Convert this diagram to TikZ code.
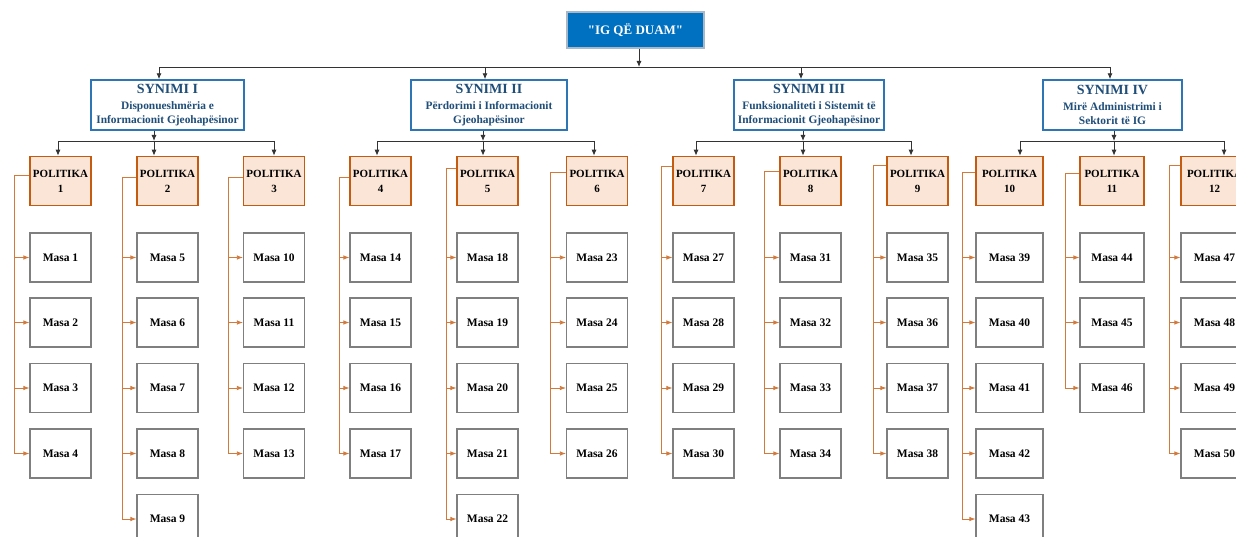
\documentclass[tikz,border=0pt]{standalone}
\usepackage{fontspec}
\setmainfont{Liberation Serif}[Ligatures=TeXOff]
\usetikzlibrary{arrows.meta}
\definecolor{igblue}{HTML}{0070C0}
\definecolor{igedge}{HTML}{A9B8C8}
\definecolor{goalline}{HTML}{2E75B6}
\definecolor{goaltext}{HTML}{1F4E79}
\definecolor{policyfill}{HTML}{FBE5D6}
\definecolor{policyline}{HTML}{C55A11}
\definecolor{measureline}{HTML}{7F7F7F}
\definecolor{policywirecol}{HTML}{D2793C}
\newcommand{\goaltitle}{\fontsize{14}{15}\selectfont}

\begin{document}
\begin{tikzpicture}[x=1pt,y=-1pt]
            \tikzstyle{vision}=[draw=igedge,line width=1.6pt,fill=igblue,text=white,minimum width=137,minimum height=36,font=\bfseries\fontsize{13}{15}\selectfont]
            \tikzstyle{goal}=[draw=goalline,line width=1.4pt,fill=white,text=goaltext,minimum height=50,align=center,inner sep=1pt,font=\bfseries\fontsize{11.4}{14}\selectfont]
            \tikzstyle{policy}=[draw=policyline,line width=1.6pt,fill=policyfill,minimum width=61,minimum height=49,align=center,inner sep=1pt,font=\bfseries\fontsize{11}{15}\selectfont]
            \tikzstyle{measure}=[draw=measureline,line width=1.2pt,fill=white,minimum width=61,minimum height=49,font=\bfseries\fontsize{11.5}{13}\selectfont]
            \tikzstyle{treewire}=[line width=0.9pt,black!80]
            \tikzstyle{treearrow}=[treewire,-{Latex[length=6pt,width=5pt]}]
            \tikzstyle{policywire}=[line width=0.8pt,policywirecol]
            \tikzstyle{policyarrow}=[policywire,-{Latex[length=6pt,width=4.5pt]}]

            \useasboundingbox (0,0) rectangle (1236,537);
            \clip (0,0) rectangle (1236,537);

            % vision
            \node[vision] (vision) at (635.5,30) {"IG QË DUAM"};

            % goals
            \node[goal,minimum width=153] (g1) at (167.5,105) {{\goaltitle SYNIMI I}\\[2pt]Disponueshmëria e\\Informacionit Gjeohapësinor};
            \node[goal,minimum width=156] (g2) at (489,105) {{\goaltitle SYNIMI II}\\[2pt]Përdorimi i Informacionit\\Gjeohapësinor};
            \node[goal,minimum width=150] (g3) at (809,105) {{\goaltitle SYNIMI III}\\[2pt]Funksionaliteti i Sistemit të\\Informacionit Gjeohapësinor};
            \node[goal,minimum width=139] (g4) at (1112.5,105) {{\goaltitle SYNIMI IV}\\[2pt]Mirë Administrimi i\\Sektorit të IG};

            % top bus
            \coordinate (t0) at (639,67);
            \coordinate (d1) at (159,67);
            \coordinate (d2) at (485,67);
            \coordinate (d3) at (801,67);
            \coordinate (d4) at (1110,67);
            \draw[treearrow] (vision.south -| t0) -- (t0);
            \draw[treewire] (d1) -- (d4);
            \draw[treearrow] (d1) -- (d1 |- g1.north);
            \draw[treearrow] (d2) -- (d2 |- g2.north);
            \draw[treearrow] (d3) -- (d3 |- g3.north);
            \draw[treearrow] (d4) -- (d4 |- g4.north);

            % policies
            \node[policy] (p1) at (60.5,181) {POLITIKA\\1};
            \node[policy] (p2) at (167.5,181) {POLITIKA\\2};
            \node[policy] (p3) at (274,181) {POLITIKA\\3};
            \node[policy] (p4) at (380.5,181) {POLITIKA\\4};
            \node[policy] (p5) at (487.5,181) {POLITIKA\\5};
            \node[policy] (p6) at (597,181) {POLITIKA\\6};
            \node[policy] (p7) at (703.5,181) {POLITIKA\\7};
            \node[policy] (p8) at (810.5,181) {POLITIKA\\8};
            \node[policy] (p9) at (917.5,181) {POLITIKA\\9};
            \node[policy,minimum width=67] (p10) at (1009.5,181) {POLITIKA\\10};
            \node[policy,minimum width=64] (p11) at (1112,181) {POLITIKA\\11};
            \node[policy,minimum width=67] (p12) at (1214.5,181) {POLITIKA\\12};

            % goal buses
            \coordinate (k1) at (154,141);
            \coordinate (k2) at (483,141);
            \coordinate (k3) at (803,141);
            \coordinate (k4) at (1114,141);
            \coordinate (q1) at (58,141);
            \coordinate (q3) at (274,141);
            \coordinate (q4) at (377,141);
            \coordinate (q6) at (594,141);
            \coordinate (q7) at (696,141);
            \coordinate (q9) at (911,141);
            \coordinate (q10) at (1020,141);
            \coordinate (q12) at (1224,141);
            \draw[treearrow] (g1.south -| k1) -- (k1);
            \draw[treearrow] (g2.south -| k2) -- (k2);
            \draw[treearrow] (g3.south -| k3) -- (k3);
            \draw[treearrow] (g4.south -| k4) -- (k4);
            \draw[treewire] (q1) -- (q3);
            \draw[treewire] (q4) -- (q6);
            \draw[treewire] (q7) -- (q9);
            \draw[treewire] (q10) -- (q12);
            \draw[treearrow] (q1) -- (q1 |- p1.north);
            \draw[treearrow] (k1) -- (k1 |- p2.north);
            \draw[treearrow] (q3) -- (q3 |- p3.north);
            \draw[treearrow] (q4) -- (q4 |- p4.north);
            \draw[treearrow] (k2) -- (k2 |- p5.north);
            \draw[treearrow] (q6) -- (q6 |- p6.north);
            \draw[treearrow] (q7) -- (q7 |- p7.north);
            \draw[treearrow] (k3) -- (k3 |- p8.north);
            \draw[treearrow] (q9) -- (q9 |- p9.north);
            \draw[treearrow] (q10) -- (q10 |- p10.north);
            \draw[treearrow] (k4) -- (k4 |- p11.north);
            \draw[treearrow] (q12) -- (q12 |- p12.north);

            % measures
            \node[measure] (m1) at (60.5,257.5) {Masa 1};
            \node[measure] (m2) at (60.5,322.5) {Masa 2};
            \node[measure] (m3) at (60.5,388) {Masa 3};
            \node[measure] (m4) at (60.5,453.5) {Masa 4};
            \node[measure] (m5) at (167.5,257.5) {Masa 5};
            \node[measure] (m6) at (167.5,322.5) {Masa 6};
            \node[measure] (m7) at (167.5,388) {Masa 7};
            \node[measure] (m8) at (167.5,453.5) {Masa 8};
            \node[measure] (m9) at (167.5,519) {Masa 9};
            \node[measure] (m10) at (274,257.5) {Masa 10};
            \node[measure] (m11) at (274,322.5) {Masa 11};
            \node[measure] (m12) at (274,388) {Masa 12};
            \node[measure] (m13) at (274,453.5) {Masa 13};
            \node[measure] (m14) at (380.5,257.5) {Masa 14};
            \node[measure] (m15) at (380.5,322.5) {Masa 15};
            \node[measure] (m16) at (380.5,388) {Masa 16};
            \node[measure] (m17) at (380.5,453.5) {Masa 17};
            \node[measure] (m18) at (487.5,257.5) {Masa 18};
            \node[measure] (m19) at (487.5,322.5) {Masa 19};
            \node[measure] (m20) at (487.5,388) {Masa 20};
            \node[measure] (m21) at (487.5,453.5) {Masa 21};
            \node[measure] (m22) at (487.5,519) {Masa 22};
            \node[measure] (m23) at (597,257.5) {Masa 23};
            \node[measure] (m24) at (597,322.5) {Masa 24};
            \node[measure] (m25) at (597,388) {Masa 25};
            \node[measure] (m26) at (597,453.5) {Masa 26};
            \node[measure] (m27) at (703.5,257.5) {Masa 27};
            \node[measure] (m28) at (703.5,322.5) {Masa 28};
            \node[measure] (m29) at (703.5,388) {Masa 29};
            \node[measure] (m30) at (703.5,453.5) {Masa 30};
            \node[measure] (m31) at (810.5,257.5) {Masa 31};
            \node[measure] (m32) at (810.5,322.5) {Masa 32};
            \node[measure] (m33) at (810.5,388) {Masa 33};
            \node[measure] (m34) at (810.5,453.5) {Masa 34};
            \node[measure] (m35) at (917.5,257.5) {Masa 35};
            \node[measure] (m36) at (917.5,322.5) {Masa 36};
            \node[measure] (m37) at (917.5,388) {Masa 37};
            \node[measure] (m38) at (917.5,453.5) {Masa 38};
            \node[measure,minimum width=67] (m39) at (1009.5,257.5) {Masa 39};
            \node[measure,minimum width=67] (m40) at (1009.5,322.5) {Masa 40};
            \node[measure,minimum width=67] (m41) at (1009.5,388) {Masa 41};
            \node[measure,minimum width=67] (m42) at (1009.5,453.5) {Masa 42};
            \node[measure,minimum width=67] (m43) at (1009.5,519) {Masa 43};
            \node[measure,minimum width=64] (m44) at (1112,257.5) {Masa 44};
            \node[measure,minimum width=64] (m45) at (1112,322.5) {Masa 45};
            \node[measure,minimum width=64] (m46) at (1112,388) {Masa 46};
            \node[measure,minimum width=67] (m47) at (1214.5,257.5) {Masa 47};
            \node[measure,minimum width=67] (m48) at (1214.5,322.5) {Masa 48};
            \node[measure,minimum width=67] (m49) at (1214.5,388) {Masa 49};
            \node[measure,minimum width=67] (m50) at (1214.5,453.5) {Masa 50};

            % policy spines
            \coordinate (c1) at (14,175);
            \coordinate (c2) at (122,177);
            \coordinate (c3) at (228,177);
            \coordinate (c4) at (339,177);
            \coordinate (c5) at (446,168);
            \coordinate (c6) at (550,172);
            \coordinate (c7) at (661,166);
            \coordinate (c8) at (764,171);
            \coordinate (c9) at (873,165);
            \coordinate (c10) at (962,172);
            \coordinate (c11) at (1065,173);
            \coordinate (c12) at (1169,165);
            \draw[policyarrow] (c1 -| p1.west) -- (c1) |- (m4.west);
            \draw[policyarrow] (c2 -| p2.west) -- (c2) |- (m9.west);
            \draw[policyarrow] (c3 -| p3.west) -- (c3) |- (m13.west);
            \draw[policyarrow] (c4 -| p4.west) -- (c4) |- (m17.west);
            \draw[policyarrow] (c5 -| p5.west) -- (c5) |- (m22.west);
            \draw[policyarrow] (c6 -| p6.west) -- (c6) |- (m26.west);
            \draw[policyarrow] (c7 -| p7.west) -- (c7) |- (m30.west);
            \draw[policyarrow] (c8 -| p8.west) -- (c8) |- (m34.west);
            \draw[policyarrow] (c9 -| p9.west) -- (c9) |- (m38.west);
            \draw[policyarrow] (c10 -| p10.west) -- (c10) |- (m43.west);
            \draw[policyarrow] (c11 -| p11.west) -- (c11) |- (m46.west);
            \draw[policyarrow] (c12 -| p12.west) -- (c12) |- (m50.west);

            % policy branches
            \draw[policyarrow] (c1 |- m1.west) -- (m1.west);
            \draw[policyarrow] (c1 |- m2.west) -- (m2.west);
            \draw[policyarrow] (c1 |- m3.west) -- (m3.west);
            \draw[policyarrow] (c2 |- m5.west) -- (m5.west);
            \draw[policyarrow] (c2 |- m6.west) -- (m6.west);
            \draw[policyarrow] (c2 |- m7.west) -- (m7.west);
            \draw[policyarrow] (c2 |- m8.west) -- (m8.west);
            \draw[policyarrow] (c3 |- m10.west) -- (m10.west);
            \draw[policyarrow] (c3 |- m11.west) -- (m11.west);
            \draw[policyarrow] (c3 |- m12.west) -- (m12.west);
            \draw[policyarrow] (c4 |- m14.west) -- (m14.west);
            \draw[policyarrow] (c4 |- m15.west) -- (m15.west);
            \draw[policyarrow] (c4 |- m16.west) -- (m16.west);
            \draw[policyarrow] (c5 |- m18.west) -- (m18.west);
            \draw[policyarrow] (c5 |- m19.west) -- (m19.west);
            \draw[policyarrow] (c5 |- m20.west) -- (m20.west);
            \draw[policyarrow] (c5 |- m21.west) -- (m21.west);
            \draw[policyarrow] (c6 |- m23.west) -- (m23.west);
            \draw[policyarrow] (c6 |- m24.west) -- (m24.west);
            \draw[policyarrow] (c6 |- m25.west) -- (m25.west);
            \draw[policyarrow] (c7 |- m27.west) -- (m27.west);
            \draw[policyarrow] (c7 |- m28.west) -- (m28.west);
            \draw[policyarrow] (c7 |- m29.west) -- (m29.west);
            \draw[policyarrow] (c8 |- m31.west) -- (m31.west);
            \draw[policyarrow] (c8 |- m32.west) -- (m32.west);
            \draw[policyarrow] (c8 |- m33.west) -- (m33.west);
            \draw[policyarrow] (c9 |- m35.west) -- (m35.west);
            \draw[policyarrow] (c9 |- m36.west) -- (m36.west);
            \draw[policyarrow] (c9 |- m37.west) -- (m37.west);
            \draw[policyarrow] (c10 |- m39.west) -- (m39.west);
            \draw[policyarrow] (c10 |- m40.west) -- (m40.west);
            \draw[policyarrow] (c10 |- m41.west) -- (m41.west);
            \draw[policyarrow] (c10 |- m42.west) -- (m42.west);
            \draw[policyarrow] (c11 |- m44.west) -- (m44.west);
            \draw[policyarrow] (c11 |- m45.west) -- (m45.west);
            \draw[policyarrow] (c12 |- m47.west) -- (m47.west);
            \draw[policyarrow] (c12 |- m48.west) -- (m48.west);
            \draw[policyarrow] (c12 |- m49.west) -- (m49.west);
        \end{tikzpicture}
\end{document}
